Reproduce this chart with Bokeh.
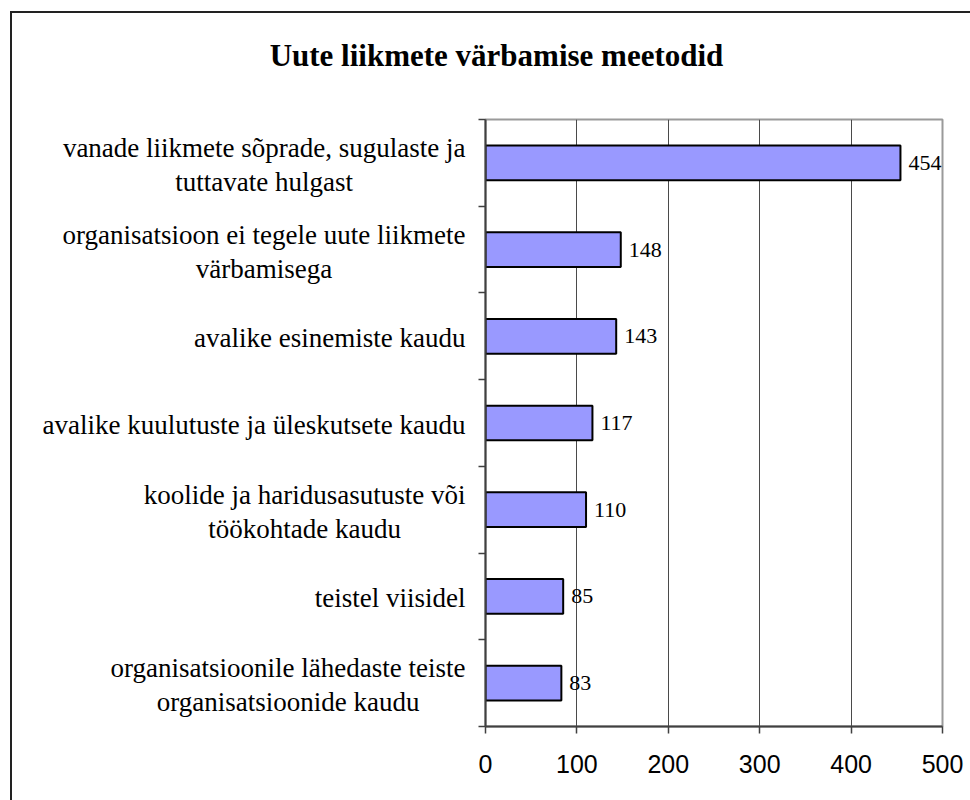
from bokeh.plotting import figure
from bokeh.models import Range1d, FixedTicker, LabelSet, ColumnDataSource, Text
from bokeh.core.properties import value
from bokeh.layouts import column, row
from bokeh.embed import file_html
from bokeh.resources import INLINE

# ---- data ----
categories = [
    "vanade liikmete sõprade, sugulaste ja\ntuttavate hulgast",
    "organisatsioon ei tegele uute liikmete\nvärbamisega",
    "avalike esinemiste kaudu",
    "avalike kuulutuste ja üleskutsete kaudu",
    "koolide ja haridusasutuste või\ntöökohtade kaudu",
    "teistel viisidel",
    "organisatsioonile lähedaste teiste\norganisatsioonide kaudu",
]
values = [454, 148, 143, 117, 110, 85, 83]
x_ticks = [0, 100, 200, 300, 400, 500]
title_text = "Uute liikmete värbamise meetodid"

n = len(categories)
ypos = [i + 0.5 for i in range(n)]
source = ColumnDataSource(dict(y=ypos, value=values, label=[str(v) for v in values],
                               cat=categories))

# layout sizes (pixels)
total_w, top_h, body_h = 958, 104, 683
lab_w = 459
main_w = total_w - lab_w
SERIF = "Liberation Serif"

def blank(fig):
    fig.background_fill_color = "white"
    fig.border_fill_color = "white"
    fig.outline_line_color = None
    fig.grid.grid_line_color = None

# ---- main chart ----
p = figure(
    width=main_w, height=body_h,
    x_range=Range1d(0, 500), y_range=Range1d(n, 0),
    output_backend="svg", toolbar_location=None,
    min_border_left=14, min_border_right=28,
    min_border_top=2, min_border_bottom=74,
)
p.background_fill_color = "white"
p.border_fill_color = "white"
p.outline_line_color = "#9a9a9a"
p.outline_line_width = 2

xa = p.xaxis[0]
xa.ticker = FixedTicker(ticks=x_ticks)
xa.major_label_text_font = "Liberation Sans"
xa.major_label_text_font_size = "25px"
xa.major_label_text_color = "black"
xa.axis_line_color = "#404040"
xa.axis_line_width = 2
xa.major_tick_in = 0
xa.major_tick_out = 7
xa.major_tick_line_color = "#404040"
xa.major_tick_line_width = 1.5
xa.minor_tick_line_color = None
xa.major_label_standoff = 21

ya = p.yaxis[0]
ya.ticker = FixedTicker(ticks=list(range(n + 1)))
ya.major_label_overrides = {i: "" for i in range(n + 1)}
ya.axis_line_color = "#404040"
ya.axis_line_width = 2
ya.major_tick_in = 0
ya.major_tick_out = 7
ya.major_tick_line_color = "#404040"
ya.major_tick_line_width = 1.5
ya.minor_tick_line_color = None

p.xgrid.ticker = FixedTicker(ticks=x_ticks)
p.xgrid.grid_line_color = "#4a4a4a"
p.xgrid.grid_line_width = 1
p.ygrid.grid_line_color = None

p.hbar(y="y", right="value", left=0, height=0.4, source=source,
       fill_color="#9999ff", line_color="black", line_width=2)

p.add_layout(LabelSet(x="value", y="y", text="label", source=source,
                      x_offset=8, text_baseline="middle", text_align="left",
                      text_font=value(SERIF), text_font_size="22px",
                      text_color="black"))

# ---- category labels (left panel sharing the y range) ----
pl = figure(
    width=lab_w, height=body_h,
    x_range=Range1d(0, 1), y_range=p.y_range,
    x_axis_location=None, y_axis_location=None,
    output_backend="svg", toolbar_location=None,
    min_border_left=0, min_border_right=0,
    min_border_top=2, min_border_bottom=74,
)
blank(pl)
has_anchor = "anchor" in Text.properties()
text_kw = dict(x=1, y="y", text="cat", source=source, x_offset=-6, y_offset=2,
               text_baseline="middle", text_font=value(SERIF),
               text_font_size="27px", text_color="black", text_line_height=1.13)
if has_anchor:
    pl.text(anchor="center_right", text_align="center", **text_kw)
else:
    pl.text(text_align="right", **text_kw)

# ---- title panel ----
pt = figure(
    width=total_w, height=top_h,
    x_range=Range1d(0, total_w), y_range=Range1d(top_h, 0),
    x_axis_location=None, y_axis_location=None,
    output_backend="svg", toolbar_location=None,
    min_border=0,
)
blank(pt)
tsrc = ColumnDataSource(dict(x=[484], y=[42], t=[title_text]))
pt.text(x="x", y="y", text="t", source=tsrc, text_align="center",
        text_baseline="alphabetic", text_font=value(SERIF),
        text_font_style="bold", text_font_size="31px", text_color="black")

layout = column(pt, row(pl, p, spacing=0), spacing=0)
layout.margin = (11, 0, 0, 10)
layout.styles = {"border-top": "2px solid #222222", "border-left": "2px solid #222222"}

open("out.html", "w").write(file_html(layout, INLINE))
